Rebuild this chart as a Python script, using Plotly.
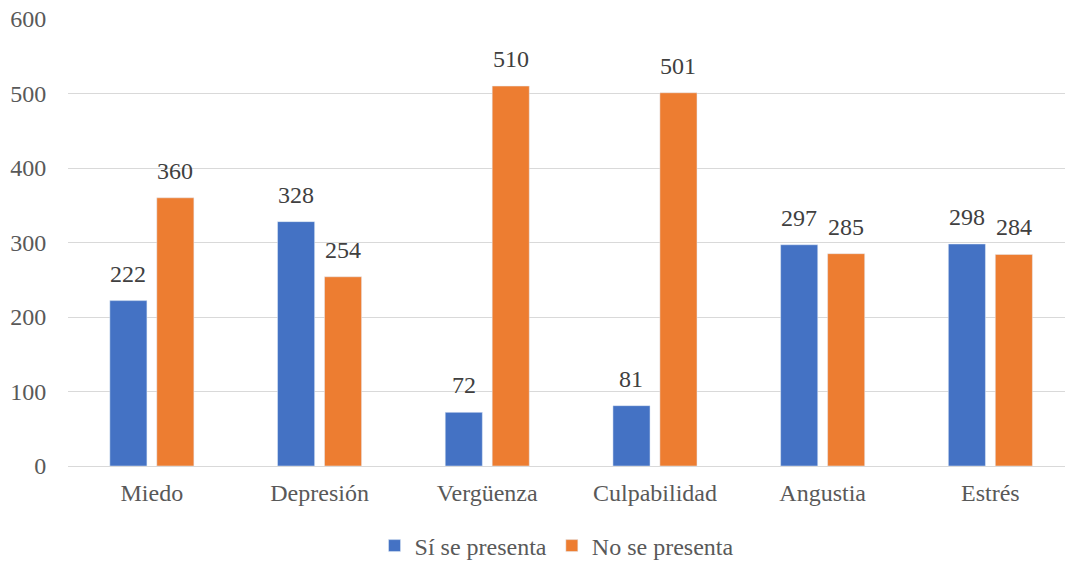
import plotly.graph_objects as go

categories = ["Miedo", "Depresión", "Vergüenza", "Culpabilidad", "Angustia", "Estrés"]
si_values = [222, 328, 72, 81, 297, 298]
no_values = [360, 254, 510, 501, 285, 284]
series_names = ["Sí se presenta", "No se presenta"]
y_ticks = [0, 100, 200, 300, 400, 500, 600]

FONT = "Liberation Serif"
TXT = "#595959"
LBL = "#404040"
FS = 24

W, H = 1065, 561
ML, MR, MT, MB = 68, 0, 19, 95
BARGAP, GROUPGAP = 0.44, 0.21
X_RANGE = [-0.5, 5.445]   # last category slot runs past the right edge, as in the source

fig = go.Figure()
fig.add_trace(go.Bar(x=categories, y=si_values, name=series_names[0],
                     marker_color="#4472C4"))
fig.add_trace(go.Bar(x=categories, y=no_values, name=series_names[1],
                     marker_color="#ED7D31"))

# data labels as annotations (pixel offset of each bar within its group)
plot_w = W - ML - MR
unit_px = plot_w / (X_RANGE[1] - X_RANGE[0])
slot = unit_px * (1 - BARGAP) / 2
for vals, sign in ((si_values, -1), (no_values, 1)):
    for c, v in zip(categories, vals):
        fig.add_annotation(x=c, y=v, text=str(v), showarrow=False,
                           xshift=sign * slot / 2, yshift=12, yanchor="bottom",
                           font=dict(size=FS, color=LBL, family=FONT))

fig.update_layout(
    width=W, height=H,
    margin=dict(l=ML, r=MR, t=MT, b=MB, autoexpand=False),
    paper_bgcolor="white", plot_bgcolor="white",
    barmode="group", bargap=BARGAP, bargroupgap=GROUPGAP,
    font=dict(family=FONT, size=FS, color=TXT),
    legend=dict(orientation="h", x=0.49, xanchor="center", y=-0.179, yanchor="middle",
                font=dict(size=FS, color=TXT, family=FONT), itemwidth=30,
                traceorder="normal"),
    showlegend=True,
)
fig.update_yaxes(range=[0, 600], tickvals=y_ticks, showgrid=True, gridcolor="#D9D9D9",
                 gridwidth=1, zeroline=False, showline=False, ticks="outside",
                 ticklen=16, tickcolor="rgba(0,0,0,0)", automargin=False,
                 tickfont=dict(size=FS, color=TXT, family=FONT))
fig.update_xaxes(range=X_RANGE, showline=True, linecolor="#D9D9D9", linewidth=1,
                 ticks="outside", ticklen=5, tickcolor="rgba(0,0,0,0)", automargin=False,
                 tickfont=dict(size=FS, color=TXT, family=FONT))

fig.write_html("out.html", config={"displayModeBar": False},
               post_script="document.body.style.margin='0';document.body.style.overflow='hidden';")
